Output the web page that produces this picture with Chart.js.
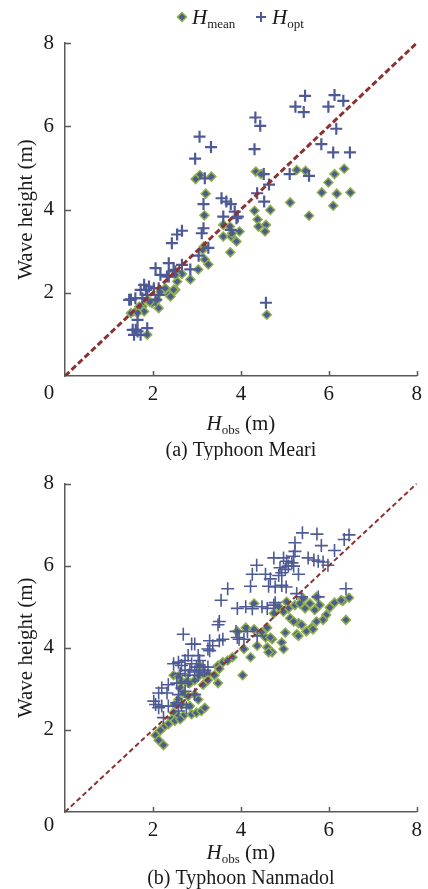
<!DOCTYPE html>
<html>
<head>
<meta charset="utf-8">
<script src="https://cdn.jsdelivr.net/npm/chart.js@4.4.1/dist/chart.umd.min.js"></script>
<style>
  html, body { margin: 0; padding: 0; background: #fff; }
  .panel { position: absolute; left: 0; width: 428px; }
  #meariPanel { top: 0; height: 460px; }
  #nanmadolPanel { top: 460px; height: 429px; }
</style>
</head>
<body>
<div class="panel" id="meariPanel"><canvas id="meariChart" width="428" height="460"></canvas></div>
<div class="panel" id="nanmadolPanel"><canvas id="nanmadolChart" width="428" height="429"></canvas></div>
<script>
// Axis ticks (both axes, both panels)
const TICK_VALUES = [0, 2, 4, 6, 8];
const PERFECT_FIT = [0, 8];

// (a) Typhoon Meari
const MEARI_MEAN_OBS = [3.07, 2.97, 3.33, 4.34, 4.46, 5.27, 5.47, 6.35, 6.13, 5.99,
  3.20, 5.84, 6.18, 6.49, 6.10, 5.12, 3.17, 4.31, 4.67, 5.55,
  4.38, 4.40, 4.57, 4.55, 3.97, 3.60, 3.78, 3.90, 3.76, 3.16,
  3.18, 3.26, 3.03, 2.85, 2.66, 2.55, 2.51, 2.36, 2.17, 2.10,
  2.13, 1.98, 1.87, 1.76, 1.50, 1.61, 1.69, 4.59, 1.87, 3.60,
  3.75, 3.80, 3.13, 2.51, 2.47, 2.40, 2.28, 1.93, 1.80, 1.65];
const MEARI_MEAN = [4.83, 4.73, 4.79, 4.91, 4.85, 4.95, 4.93, 4.98, 4.85, 4.65,
  4.38, 4.41, 4.38, 4.41, 4.09, 4.17, 3.86, 3.97, 3.99, 3.85,
  3.76, 3.59, 3.63, 3.47, 3.47, 3.35, 3.35, 3.23, 2.97, 3.11,
  2.80, 2.68, 2.56, 2.32, 2.45, 2.27, 2.07, 1.95, 2.03, 1.83,
  1.63, 1.75, 1.83, 1.67, 1.51, 1.55, 1.67, 1.47, 0.99, 3.63,
  3.59, 3.43, 3.03, 2.43, 2.07, 1.91, 2.11, 1.78, 1.55, 1.52];
const MEARI_OPT_OBS = [5.46, 6.13, 6.33, 5.24, 5.43, 5.99, 4.33, 4.44, 3.06, 3.32,
  2.96, 4.31, 6.17, 5.83, 6.10, 6.48, 3.18, 4.52, 5.11, 5.55,
  4.64, 4.37, 4.53, 3.15, 3.56, 3.67, 3.77, 3.86, 3.60, 3.93,
  3.90, 3.15, 3.11, 2.66, 2.55, 2.43, 3.77, 3.26, 3.04, 2.36,
  2.66, 2.85, 2.06, 2.17, 2.36, 2.51, 2.47, 2.32, 1.80, 1.91,
  2.02, 1.72, 2.13, 1.87, 1.50, 1.60, 1.76, 2.06, 1.84, 2.13,
  1.46, 4.57, 1.65, 1.54, 1.65, 1.87, 1.57, 1.72, 1.61];
const MEARI_OPT = [6.73, 6.75, 6.61, 6.47, 6.34, 6.47, 6.21, 6.01, 5.75, 5.50,
  5.22, 5.45, 5.94, 5.57, 5.37, 5.37, 4.75, 4.85, 4.85, 4.81,
  4.60, 4.39, 4.19, 4.13, 4.27, 4.19, 4.13, 3.95, 3.83, 3.83,
  3.79, 3.55, 3.43, 3.49, 3.40, 3.19, 3.51, 3.08, 2.89, 2.71,
  2.67, 2.56, 2.59, 2.43, 2.39, 2.51, 2.55, 2.39, 2.19, 2.15,
  2.11, 2.07, 1.95, 1.95, 1.84, 1.87, 1.87, 1.83, 2.07, 2.11,
  1.83, 1.76, 1.35, 1.11, 1.07, 1.15, 0.99, 0.99, 1.11];

// (b) Typhoon Nanmadol
const NANMADOL_MEAN_OBS = [3.92, 4.11, 4.30, 4.48, 4.60, 4.71, 4.56, 4.93, 4.37, 4.60,
  4.71, 4.97, 4.07, 4.22, 3.81, 4.04, 3.48, 3.59, 3.70, 3.51,
  3.40, 3.48, 3.06, 3.03, 3.14, 3.25, 2.47, 2.58, 2.65, 2.76,
  2.84, 2.95, 3.14, 3.25, 2.62, 2.69, 2.80, 2.95, 3.03, 2.58,
  2.50, 2.65, 2.84, 2.47, 2.58, 2.69, 2.88, 2.99, 3.10, 3.18,
  2.43, 2.50, 2.62, 2.35, 2.24, 2.17, 2.06, 2.13, 2.24, 6.46,
  6.32, 6.13, 6.02, 6.39, 5.72, 5.57, 5.79, 5.68, 5.94, 5.87,
  5.72, 5.61, 5.04, 5.23, 5.34, 5.46, 5.08, 4.86, 4.97, 4.75,
  5.12, 5.31, 5.38, 5.20, 5.01, 5.27, 5.31, 4.67, 4.63, 5.64,
  5.49, 4.30, 5.42, 6.28];
const NANMADOL_MEAN = [4.40, 4.49, 4.45, 4.37, 4.49, 4.21, 4.25, 4.13, 4.05, 4.01,
  3.89, 3.97, 3.97, 3.77, 3.77, 3.33, 3.57, 3.65, 3.69, 3.49,
  3.33, 3.14, 3.57, 3.30, 3.37, 3.37, 3.33, 3.30, 3.18, 3.18,
  3.14, 3.21, 3.10, 3.21, 3.02, 2.90, 2.82, 2.86, 2.74, 2.74,
  2.62, 2.62, 2.58, 2.42, 2.34, 2.34, 2.38, 2.42, 2.46, 2.54,
  2.26, 2.22, 2.26, 2.14, 2.06, 1.99, 1.87, 1.75, 1.63, 5.22,
  5.14, 5.10, 4.98, 4.68, 5.24, 5.08, 5.04, 4.92, 4.80, 4.68,
  4.64, 4.49, 5.12, 5.04, 5.08, 4.96, 4.96, 5.00, 4.88, 4.84,
  4.72, 4.60, 4.56, 4.64, 4.37, 4.33, 4.29, 4.25, 3.89, 4.45,
  4.40, 5.08, 5.20, 5.16];
const NANMADOL_OPT_OBS = [5.40, 5.73, 6.46, 6.35, 5.23, 5.83, 6.13, 5.23, 5.20, 4.75,
  4.97, 5.04, 5.16, 5.08, 5.20, 5.53, 5.66, 5.76, 5.87, 5.98,
  4.36, 4.89, 5.01, 5.31, 4.26, 4.56, 4.67, 4.86, 4.93, 4.22,
  4.63, 4.78, 4.93, 5.03, 3.70, 3.55, 6.39, 5.27, 5.38, 5.76,
  4.78, 3.92, 4.11, 4.26, 4.48, 4.60, 4.75, 3.89, 3.96, 3.51,
  3.48, 4.15, 4.37, 3.92, 4.07, 3.51, 3.59, 3.29, 3.25, 3.36,
  3.29, 2.69, 2.88, 2.95, 2.80, 3.03, 3.06, 2.58, 2.73, 2.47,
  2.65, 2.88, 2.99, 3.14, 3.25, 2.73, 2.84, 2.95, 3.06, 3.18,
  2.62, 2.80, 3.03, 2.54, 2.35, 2.65, 2.80, 2.20, 2.13, 2.32,
  2.58, 2.73, 2.95, 2.02, 2.06, 2.13, 2.20, 2.54, 2.65, 2.76,
  2.58, 2.35, 2.24];
const NANMADOL_OPT = [6.80, 6.77, 6.75, 6.64, 6.56, 6.49, 6.37, 6.35, 6.23, 6.19,
  6.19, 6.11, 6.07, 5.99, 5.99, 6.19, 6.14, 6.11, 6.09, 6.01,
  6.01, 5.95, 5.91, 5.79, 5.79, 5.79, 5.68, 5.76, 5.83, 5.50,
  5.50, 5.48, 5.52, 5.48, 5.44, 5.16, 5.44, 5.32, 5.24, 5.24,
  5.10, 4.96, 5.00, 4.95, 5.00, 4.96, 5.04, 4.40, 4.21, 4.64,
  4.56, 4.40, 4.29, 4.25, 4.21, 4.17, 4.21, 4.17, 3.97, 4.05,
  3.93, 4.33, 4.09, 4.09, 3.81, 3.81, 3.69, 3.65, 3.69, 3.61,
  3.57, 3.61, 3.53, 3.53, 3.53, 3.45, 3.45, 3.41, 3.45, 3.45,
  3.37, 3.33, 3.33, 3.14, 3.10, 3.14, 3.18, 3.02, 2.90, 2.90,
  2.86, 2.94, 2.86, 2.70, 2.62, 2.54, 2.58, 2.66, 2.62, 2.54,
  2.46, 2.58, 2.30];

const SERIF = '"Liberation Serif", "Times New Roman", serif';
const TEXT_COLOR = '#1a1a1a';
const AXIS_COLOR = '#5a5a5a';
const OPT_COLOR = '#4e5a96';
const MEAN_FILL = '#4b5d90';
const MEAN_BORDER = '#8fb04c';
const FIT_COLOR = '#8c3232';

const toPoints = (xs, ys) => xs.map((x, i) => ({ x, y: ys[i] }));

function drawDiamond(ctx, x, y, r) {
  ctx.beginPath();
  ctx.moveTo(x, y - r); ctx.lineTo(x + r, y); ctx.lineTo(x, y + r); ctx.lineTo(x - r, y);
  ctx.closePath();
  ctx.fillStyle = MEAN_FILL; ctx.fill();
  ctx.strokeStyle = MEAN_BORDER; ctx.lineWidth = 1.5; ctx.stroke();
}

function drawCross(ctx, x, y, r) {
  ctx.beginPath();
  ctx.moveTo(x - r, y); ctx.lineTo(x + r, y);
  ctx.moveTo(x, y - r); ctx.lineTo(x, y + r);
  ctx.strokeStyle = OPT_COLOR; ctx.lineWidth = 2; ctx.stroke();
}

// italic H with subscript, then optional plain tail, starting at x (or centred)
function drawSubText(ctx, x, baseline, sub, tail, centred) {
  const mainFont = `italic 21px ${SERIF}`;
  const subFont = `13px ${SERIF}`;
  const tailFont = `21px ${SERIF}`;
  ctx.font = mainFont; const wH = ctx.measureText('H').width;
  ctx.font = subFont; const wS = ctx.measureText(sub).width;
  ctx.font = tailFont; const wT = tail ? ctx.measureText(tail).width : 0;
  let start = centred ? x - (wH + wS + wT) / 2 : x;
  ctx.fillStyle = TEXT_COLOR;
  ctx.textAlign = 'left';
  ctx.textBaseline = 'alphabetic';
  ctx.font = mainFont; ctx.fillText('H', start, baseline);
  ctx.font = subFont; ctx.fillText(sub, start + wH, baseline + 4);
  if (tail) { ctx.font = tailFont; ctx.fillText(tail, start + wH + wS, baseline); }
}

const panelDecor = {
  id: 'panelDecor',
  afterDraw(chart, args, opts) {
    const { ctx, chartArea, scales } = chart;
    const { left, right, bottom } = chartArea;
    ctx.save();
    // inward tick marks
    ctx.strokeStyle = AXIS_COLOR;
    ctx.lineWidth = 1.5;
    ctx.beginPath();
    TICK_VALUES.forEach(v => {
      if (v === 0) return;
      const px = Math.round(scales.x.getPixelForValue(v)) + 0.5;
      ctx.moveTo(px, bottom); ctx.lineTo(px, bottom - 5);
      const py = Math.round(scales.y.getPixelForValue(v)) + 0.5;
      ctx.moveTo(left, py); ctx.lineTo(left + 6, py);
    });
    ctx.stroke();
    // shared origin label
    ctx.fillStyle = TEXT_COLOR;
    ctx.font = `21px ${SERIF}`;
    ctx.textAlign = 'center';
    ctx.textBaseline = 'middle';
    ctx.fillText('0', opts.zeroX, opts.zeroY);
    const cx = (left + right) / 2;
    drawSubText(ctx, cx, opts.titleBaseline, 'obs', ' (m)', true);
    ctx.font = `20px ${SERIF}`;
    ctx.textAlign = 'center';
    ctx.textBaseline = 'alphabetic';
    ctx.fillStyle = TEXT_COLOR;
    ctx.fillText(opts.caption, cx, opts.captionBaseline);
    if (opts.legend) {
      drawDiamond(ctx, 182, 17, 4.5);
      drawSubText(ctx, 192, 24, 'mean', '', false);
      drawCross(ctx, 261, 17, 5);
      drawSubText(ctx, 272, 24, 'opt', '', false);
    }
    ctx.restore();
  }
};

function axis(isY, fitSize) {
  return {
    type: 'linear',
    min: 0,
    max: 8,
    grid: { display: false, drawTicks: false },
    border: { display: true, color: AXIS_COLOR, width: 1.5 },
    ticks: {
      stepSize: 2,
      color: TEXT_COLOR,
      font: { family: SERIF, size: 21 },
      padding: isY ? 11 : 6,
      callback: v => (v === 0 ? '' : v),
    },
    title: isY ? {
      display: true,
      text: 'Wave height (m)',
      color: TEXT_COLOR,
      font: { family: SERIF, size: 21 },
      padding: { top: 14, bottom: 0 },
    } : { display: false },
    afterFit: scale => {
      if (isY) scale.width = fitSize; else scale.height = fitSize;
    },
  };
}

function makePanel(canvasId, meanObs, mean, optObs, opt, cfg) {
  new Chart(document.getElementById(canvasId), {
    type: 'scatter',
    data: {
      datasets: [
        {
          label: 'Perfect fit',
          data: toPoints(PERFECT_FIT, PERFECT_FIT),
          showLine: true,
          borderColor: FIT_COLOR,
          borderWidth: cfg.fitWidth,
          borderDash: cfg.fitDash,
          pointRadius: 0,
        },
        {
          label: 'H_opt',
          data: toPoints(optObs, opt),
          pointStyle: 'cross',
          pointRadius: cfg.crossRadius,
          borderColor: OPT_COLOR,
          borderWidth: cfg.crossWidth,
        },
        {
          label: 'H_mean',
          data: toPoints(meanObs, mean),
          pointStyle: 'rectRot',
          pointRadius: 4.5,
          backgroundColor: MEAN_FILL,
          borderColor: MEAN_BORDER,
          borderWidth: 1.5,
        },
      ]
    },
    options: {
      responsive: false,
      animation: false,
      layout: { padding: { top: cfg.top, right: 7, bottom: 0, left: 0 } },
      plugins: {
        legend: { display: false },
        tooltip: { enabled: false },
        panelDecor: cfg.decor,
      },
      scales: {
        x: axis(false, cfg.xAxisHeight),
        y: axis(true, 65),
      }
    },
    plugins: [panelDecor],
  });
}

makePanel('meariChart', MEARI_MEAN_OBS, MEARI_MEAN, MEARI_OPT_OBS, MEARI_OPT, {
  top: 43,
  xAxisHeight: 84,
  fitWidth: 3,
  fitDash: [6, 3],
  crossRadius: 6,
  crossWidth: 2.2,
  decor: { zeroX: 49, zeroY: 393, titleBaseline: 430, captionBaseline: 456, caption: '(a) Typhoon Meari', legend: true },
});

makePanel('nanmadolChart', NANMADOL_MEAN_OBS, NANMADOL_MEAN, NANMADOL_OPT_OBS, NANMADOL_OPT, {
  top: 16,
  xAxisHeight: 77,
  fitWidth: 2,
  fitDash: [5, 3],
  crossRadius: 6.5,
  crossWidth: 1.6,
  decor: { zeroX: 49, zeroY: 365, titleBaseline: 399, captionBaseline: 424, caption: '(b) Typhoon Nanmadol', legend: false },
});
</script>
</body>
</html>
